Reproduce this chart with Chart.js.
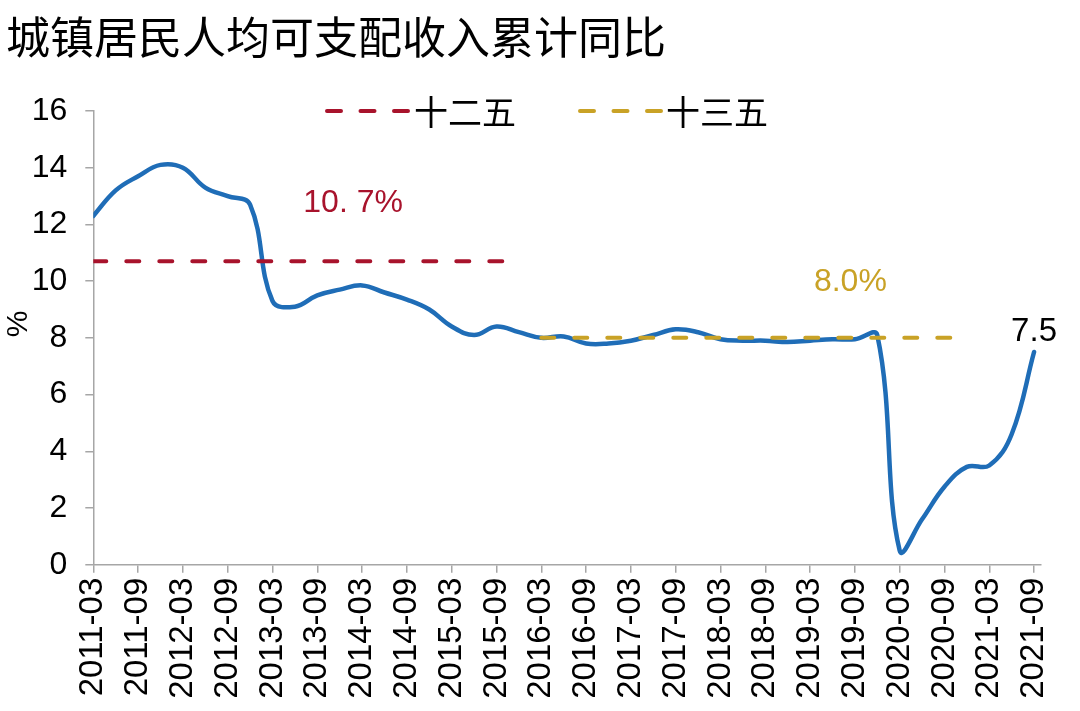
<!DOCTYPE html>
<html><head><meta charset="utf-8">
<script src="https://cdn.jsdelivr.net/npm/chart.js@4/dist/chart.umd.min.js"></script>
<style>html,body{margin:0;padding:0;background:#fff}#wrap{width:1080px;height:711px;position:relative}</style>
</head><body><div id="wrap"><canvas id="c"></canvas></div>
<script>
const chartTitle = '城镇居民人均可支配收入累计同比';
const quarters = [
  '2011-03','2011-06','2011-09','2011-12','2012-03','2012-06','2012-09','2012-12',
  '2013-03','2013-06','2013-09','2013-12','2014-03','2014-06','2014-09','2014-12',
  '2015-03','2015-06','2015-09','2015-12','2016-03','2016-06','2016-09','2016-12',
  '2017-03','2017-06','2017-09','2017-12','2018-03','2018-06','2018-09','2018-12',
  '2019-03','2019-06','2019-09','2019-12','2020-03','2020-06','2020-09','2020-12',
  '2021-03','2021-06','2021-09'];
const incomeGrowth = [
  12.3, 13.2, 13.7, 14.1, 14.0, 13.3, 13.0, 12.7,
  9.3, 9.1, 9.5, 9.7, 9.85, 9.6, 9.35, 9.0,
  8.4, 8.1, 8.4, 8.2, 8.0, 8.05, 7.8, 7.8,
  7.9, 8.1, 8.3, 8.2, 7.95, 7.9, 7.9, 7.85,
  7.9, 7.95, 7.95, 8.1, 0.5, 1.6, 2.75, 3.45,
  3.5, 4.6, 7.5];
const planNames = ['十二五', '十三五'];
const planValues = [10.7, 8.0];
const planStart = ['2011-03', '2016-03'];
const planEnd = ['2015-12', '2020-12'];
const planTexts = ['10. 7%', '8.0%'];
const planColors = ['#A8132C', '#C9A226'];
const lineColor = '#1F6DB7';
const yAxisTitle = '%';
const lastValueText = '7.5';

const FONT_LAT = '"Liberation Sans", Arial, sans-serif';
const FONT_CJK = '"Noto Sans CJK SC", sans-serif';

const planDatasets = planNames.map((name, k) => {
  const s = quarters.indexOf(planStart[k]), e = quarters.indexOf(planEnd[k]);
  const pts = [];
  for (let i = s; i <= e; i++) pts.push({x: i, y: planValues[k]});
  return {
    label: name, data: pts, borderColor: planColors[k], borderWidth: 4,
    borderDash: [13, 20], borderCapStyle: 'round', pointRadius: 0, tension: 0,
    order: 0, fill: false
  };
});

const overlay = {
  id: 'overlay',
  afterDraw(chart) {
    const ctx = chart.ctx, xs = chart.scales.x, ys = chart.scales.y;
    ctx.save();
    // title
    ctx.fillStyle = '#000';
    ctx.font = '44px ' + FONT_CJK;
    ctx.textAlign = 'left'; ctx.textBaseline = 'middle';
    ctx.fillText(chartTitle, 6, 37);
    // legend
    const legendX = [327, 580], legendTextX = [414, 666], ly = 111;
    planNames.forEach((n, k) => {
      ctx.save();
      ctx.strokeStyle = planColors[k]; ctx.lineWidth = 4; ctx.lineCap = 'round';
      ctx.setLineDash([14, 19.5]);
      ctx.beginPath(); ctx.moveTo(legendX[k], ly); ctx.lineTo(legendX[k] + 83, ly); ctx.stroke();
      ctx.restore();
      ctx.fillStyle = '#000'; ctx.font = '34px ' + FONT_CJK;
      ctx.textAlign = 'left'; ctx.textBaseline = 'middle';
      ctx.fillText(n, legendTextX[k], ly + 1);
    });
    // plan average labels
    const labelPos = [[11.6, 12.75], [33.8, 9.95]];
    planTexts.forEach((t, k) => {
      ctx.fillStyle = planColors[k]; ctx.font = '32px ' + FONT_LAT;
      ctx.textAlign = 'center'; ctx.textBaseline = 'middle';
      ctx.fillText(t, xs.getPixelForValue(labelPos[k][0]), ys.getPixelForValue(labelPos[k][1]));
    });
    // last value
    const li = incomeGrowth.length - 1;
    ctx.fillStyle = '#000'; ctx.font = '33px ' + FONT_LAT;
    ctx.textAlign = 'center'; ctx.textBaseline = 'middle';
    ctx.fillText(lastValueText, xs.getPixelForValue(li), ys.getPixelForValue(incomeGrowth[li]) - 20);
    // y axis title
    ctx.save();
    ctx.translate(19, 324); ctx.rotate(-Math.PI / 2);
    ctx.font = '30px ' + FONT_LAT; ctx.textAlign = 'center'; ctx.textBaseline = 'middle';
    ctx.fillText(yAxisTitle, 0, 0);
    ctx.restore();
    ctx.restore();
  }
};

new Chart(document.getElementById('c'), {
  type: 'line',
  data: {
    datasets: [
      ...planDatasets,
      {
        label: '城镇居民人均可支配收入累计同比',
        data: incomeGrowth.map((v, i) => ({x: i, y: v})),
        borderColor: lineColor, borderWidth: 4.5, pointRadius: 0,
        tension: 0.4, order: 1, fill: false, borderCapStyle: 'round'
      }
    ]
  },
  options: {
    responsive: true, maintainAspectRatio: false, animation: false,
    layout: {padding: {top: 111, right: 39, left: 0, bottom: 0}},
    plugins: {legend: {display: false}, title: {display: false}, tooltip: {enabled: false}},
    scales: {
      x: {
        type: 'linear', min: 0, max: 42.31,
        afterFit: (s) => { s.height = 146.3; },
        grid: {drawOnChartArea: false, drawTicks: true, tickLength: 8, color: '#A6A6A6', lineWidth: 1.5},
        border: {display: true, color: '#A6A6A6', width: 1.5},
        ticks: {
          stepSize: 2, includeBounds: false, autoSkip: false,
          minRotation: 90, maxRotation: 90, padding: 5, color: '#000',
          font: {family: FONT_LAT, size: 33},
          callback: (v) => quarters[v] || ''
        }
      },
      y: {
        min: 0, max: 16,
        afterFit: (s) => { s.width = 93.3; },
        grid: {drawOnChartArea: false, drawTicks: true, tickLength: 8, color: '#A6A6A6', lineWidth: 1.5},
        border: {display: true, color: '#A6A6A6', width: 1.5},
        ticks: {stepSize: 2, padding: 18, color: '#000', font: {family: FONT_LAT, size: 32}}
      }
    }
  },
  plugins: [overlay]
});
</script></body></html>
